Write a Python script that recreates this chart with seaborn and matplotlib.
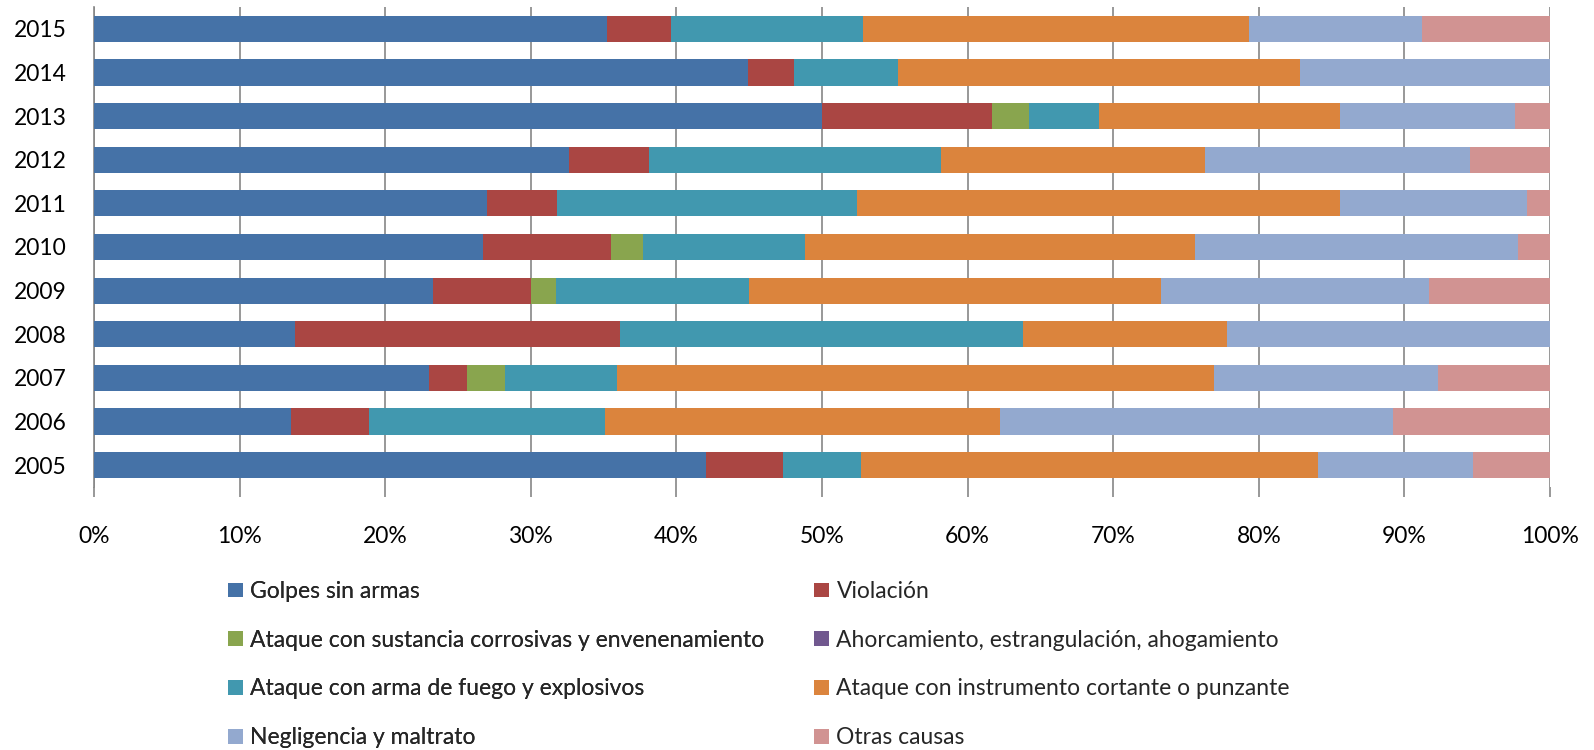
import numpy as np
import pandas as pd
import matplotlib
matplotlib.use("Agg")
import matplotlib.pyplot as plt
from matplotlib.patches import Patch
import seaborn as sns

# ---------------- data ----------------
years = ["2015", "2014", "2013", "2012", "2011", "2010", "2009", "2008", "2007", "2006", "2005"]

golpes      = [35.2, 44.9, 50.0, 32.6, 27.0, 26.7, 23.3, 13.8, 23.0, 13.5, 42.0]
violacion   = [4.4, 3.2, 11.7, 5.5, 4.8, 8.8, 6.7, 22.3, 2.6, 5.4, 5.3]
corrosivas  = [0.0, 0.0, 2.5, 0.0, 0.0, 2.2, 1.7, 0.0, 2.6, 0.0, 0.0]
ahorcamiento = [0.0] * 11
fuego       = [13.2, 7.1, 4.8, 20.1, 20.6, 11.1, 13.3, 27.7, 7.7, 16.2, 5.4]
cortante    = [26.5, 27.6, 16.6, 18.1, 33.2, 26.8, 28.3, 14.0, 41.0, 27.1, 31.4]
negligencia = [11.9, 17.2, 12.0, 18.2, 12.8, 22.2, 18.4, 22.2, 15.4, 27.0, 10.6]
otras       = [8.8, 0.0, 2.4, 5.5, 1.6, 2.2, 8.3, 0.0, 7.7, 10.8, 5.3]

series_names = [
    "Golpes sin armas",
    "Violación",
    "Ataque con sustancia corrosivas y envenenamiento",
    "Ahorcamiento, estrangulación, ahogamiento",
    "Ataque con arma de fuego y explosivos",
    "Ataque con instrumento cortante o punzante",
    "Negligencia y maltrato",
    "Otras causas",
]
series_values = [golpes, violacion, corrosivas, ahorcamiento, fuego, cortante, negligencia, otras]
colors = ["#4572A7", "#AA4643", "#89A54E", "#71588F", "#4198AF", "#DB843D", "#93A9CF", "#D19392"]

x_ticks = [0, 10, 20, 30, 40, 50, 60, 70, 80, 90, 100]
x_tick_labels = ["0%", "10%", "20%", "30%", "40%", "50%", "60%", "70%", "80%", "90%", "100%"]

# ---------------- style ----------------
sns.set_style("white")
plt.rcParams["font.family"] = ["Lato", "DejaVu Sans"]
FS = 16.5
GRID = "#868686"

W, H = 1594, 750
fig = plt.figure(figsize=(W / 100, H / 100), dpi=100)
ax = fig.add_axes([94 / W, (H - 487) / H, (1550 - 94) / W, (487 - 7) / H])

df = pd.DataFrame({name: vals for name, vals in zip(series_names, series_values)}, index=years)
df = df.div(df.sum(axis=1), axis=0) * 100
cum = df.cumsum(axis=1)

# draw cumulative bars from the right-most series back to the first
for name, col in reversed(list(zip(series_names, colors))):
    d = pd.DataFrame({"year": years, "value": cum[name].values})
    sns.barplot(data=d, x="value", y="year", order=years, orient="h",
                color=col, saturation=1, width=0.6, linewidth=0, ax=ax, zorder=3)

ax.set_xlim(0, 100)
ax.set_ylim(len(years) - 0.5, -0.5)
ax.set_xticks(x_ticks)
ax.set_xticklabels(x_tick_labels)
ax.set_xlabel("")
ax.set_ylabel("")
ax.xaxis.grid(True, color=GRID, linewidth=1.2)
ax.yaxis.grid(False)
ax.set_axisbelow(True)
for s in ["top", "right", "bottom"]:
    ax.spines[s].set_visible(False)
ax.spines["left"].set_color(GRID)
ax.spines["left"].set_linewidth(1.2)
ax.tick_params(axis="x", which="both", bottom=True, length=7.5, width=1.2,
               color=GRID, labelsize=FS, pad=20.5, labelcolor="black")
ax.tick_params(axis="y", which="both", left=False, labelsize=FS, pad=16, labelcolor="black")

# ---------------- legend (two columns, row-major order) ----------------
handles = [Patch(facecolor=c, edgecolor="none", label=n) for n, c in zip(series_names, colors)]
col1 = [handles[i] for i in (0, 2, 4, 6)]
col2 = [handles[i] for i in (1, 3, 5, 7)]
common = dict(loc="upper left", frameon=False, fontsize=FS, borderpad=0, borderaxespad=0,
              handlelength=0.65, handleheight=0.62, handletextpad=0.33, labelspacing=1.21)
leg1 = fig.legend(handles=col1, bbox_to_anchor=(228 / W, (H - 581) / H), **common)
fig.add_artist(leg1)
leg2 = fig.legend(handles=col2, bbox_to_anchor=(814 / W, (H - 581) / H), **common)

fig.savefig("out.png", dpi=100)
